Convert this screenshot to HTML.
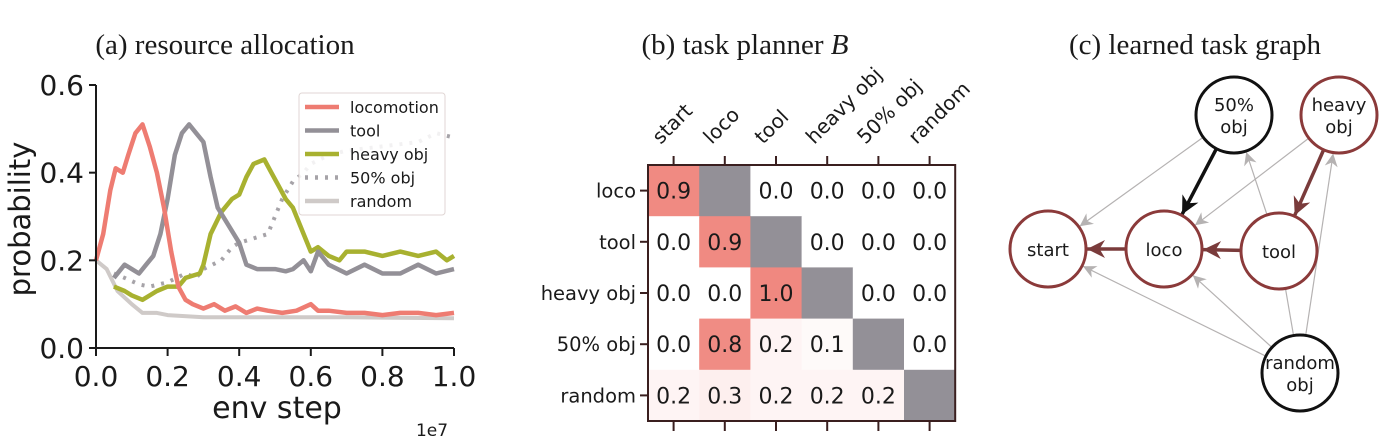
<!DOCTYPE html>
<html><head><meta charset="utf-8"><style>
html,body{margin:0;padding:0;background:#fff;}
svg{display:block;}
.t{font-family:"DejaVu Sans","Liberation Sans",sans-serif;fill:#1a1a1a;}
.s{font-family:"Liberation Serif",serif;fill:#1a1a1a;}
</style></head><body>
<svg id="root" width="1400" height="448" viewBox="0 0 1400 448" xmlns="http://www.w3.org/2000/svg">
<text class="s" x="225" y="54" font-size="29" text-anchor="middle">(a) resource allocation</text>
<text class="s" x="745" y="54" font-size="29" text-anchor="middle">(b) task planner <tspan font-style="italic">B</tspan></text>
<text class="s" x="1195" y="54" font-size="29" text-anchor="middle">(c) learned task graph</text>
<g id="lineChart"></g>
<g id="heat"></g>
<g id="graph"></g>
</svg>
<script>
const NS="http://www.w3.org/2000/svg";
function mk(p,tag,at,txt){const e=document.createElementNS(NS,tag);for(const k in at)e.setAttribute(k,at[k]);if(txt!==undefined)e.textContent=txt;p.appendChild(e);return e;}

// ---- line chart data ----
const xTicks=[0,0.2,0.4,0.6,0.8,1.0];
const yTicks=[0,0.2,0.4,0.6];
const seriesNames=["locomotion","tool","heavy obj","50% obj","random"];
const locoX=[0,0.02,0.04,0.055,0.075,0.09,0.11,0.13,0.15,0.17,0.19,0.21,0.23,0.25,0.27,0.3,0.33,0.36,0.39,0.42,0.45,0.48,0.52,0.56,0.6,0.62,0.65,0.7,0.75,0.8,0.85,0.9,0.95,1.0];
const locoY=[0.2,0.26,0.36,0.41,0.40,0.44,0.49,0.51,0.46,0.40,0.32,0.22,0.14,0.11,0.10,0.09,0.10,0.085,0.095,0.08,0.09,0.085,0.08,0.085,0.10,0.085,0.085,0.08,0.08,0.075,0.08,0.08,0.075,0.08];
const toolX=[0.05,0.08,0.1,0.12,0.14,0.16,0.18,0.2,0.22,0.24,0.26,0.28,0.3,0.32,0.34,0.37,0.4,0.42,0.45,0.48,0.5,0.53,0.55,0.58,0.6,0.62,0.65,0.7,0.75,0.8,0.85,0.9,0.95,1.0];
const toolY=[0.16,0.19,0.18,0.17,0.19,0.21,0.26,0.34,0.44,0.49,0.51,0.49,0.47,0.39,0.32,0.28,0.24,0.19,0.18,0.18,0.18,0.175,0.18,0.2,0.175,0.22,0.19,0.17,0.19,0.17,0.17,0.19,0.17,0.18];
const heavyX=[0.05,0.08,0.1,0.13,0.17,0.2,0.23,0.25,0.29,0.3,0.32,0.35,0.38,0.4,0.42,0.44,0.47,0.49,0.51,0.53,0.55,0.58,0.6,0.62,0.65,0.68,0.7,0.75,0.8,0.85,0.9,0.95,0.98,1.0];
const heavyY=[0.14,0.13,0.12,0.11,0.13,0.14,0.14,0.16,0.17,0.19,0.26,0.31,0.34,0.35,0.39,0.42,0.43,0.40,0.37,0.34,0.32,0.26,0.22,0.23,0.21,0.20,0.22,0.22,0.21,0.22,0.21,0.22,0.20,0.21];
const halfX=[0.05,0.08,0.12,0.15,0.2,0.25,0.28,0.3,0.35,0.38,0.4,0.44,0.48,0.5,0.52,0.55,0.58,0.6,0.65,0.7,0.8,0.9,0.95,1.0];
const halfY=[0.17,0.16,0.145,0.14,0.15,0.17,0.16,0.18,0.2,0.23,0.24,0.25,0.26,0.30,0.34,0.38,0.40,0.42,0.44,0.45,0.46,0.47,0.49,0.48];
const randX=[0,0.03,0.06,0.1,0.13,0.17,0.2,0.3,0.5,0.7,1.0];
const randY=[0.2,0.18,0.13,0.10,0.08,0.08,0.075,0.07,0.07,0.07,0.068];

const L={x0:96,x1:454,y0:348,y1:85};
const sx=v=>L.x0+(L.x1-L.x0)*v;
const sy=v=>L.y0-(L.y0-L.y1)*v/0.6;
const lc=document.getElementById('lineChart');
function poly(xs,ys){return xs.map((x,i)=>sx(x).toFixed(1)+","+sy(ys[i]).toFixed(1)).join(" ");}
const lines=[
 [randX,randY,"#cfcac8",4,"","series-random"],
 [halfX,halfY,"#a6a3a8",4,"3 7","series-50pct-obj"],
 [heavyX,heavyY,"#a8b130",4.5,"","series-heavy-obj"],
 [toolX,toolY,"#939097",4.5,"","series-tool"],
 [locoX,locoY,"#ee7c72",4.5,"","series-locomotion"]];
for(const [xs,ys,c,w,d,n] of lines){
 const p=mk(lc,'polyline',{points:poly(xs,ys),fill:"none",stroke:c,"stroke-width":w,"stroke-linejoin":"round","stroke-dasharray":d});
 
 
}
mk(lc,'line',{x1:L.x0,y1:L.y1,x2:L.x0,y2:L.y0,stroke:"#1a1a1a","stroke-width":2});
mk(lc,'line',{x1:L.x0,y1:L.y0,x2:L.x1,y2:L.y0,stroke:"#1a1a1a","stroke-width":2});
for(const t of yTicks){
 mk(lc,'line',{x1:L.x0-7,y1:sy(t),x2:L.x0,y2:sy(t),stroke:"#1a1a1a","stroke-width":2});
 const e=mk(lc,'text',{class:"t",x:L.x0-12,y:sy(t)+10,"font-size":28,"text-anchor":"end"},t.toFixed(1));
 
 
}
for(const t of xTicks){
 mk(lc,'line',{x1:sx(t),y1:L.y0,x2:sx(t),y2:L.y0+8,stroke:"#1a1a1a","stroke-width":2});
 const e=mk(lc,'text',{class:"t",x:sx(t),y:L.y0+38,"font-size":28,"text-anchor":"middle"},t.toFixed(1));
 
 
}
let e=mk(lc,'text',{class:"t",x:277,y:418,"font-size":30,"text-anchor":"middle"},"env step");

e=mk(lc,'text',{class:"t",x:432,y:436,"font-size":17,"text-anchor":"middle"},"1e7");

e=mk(lc,'text',{class:"t",x:0,y:0,"font-size":29,"text-anchor":"middle",transform:"translate(30,219) rotate(-90)"},"probability");

// legend
const lg=mk(lc,'g',{});

mk(lg,'rect',{x:299,y:93,width:146,height:122,rx:3,fill:"rgba(255,255,255,0.85)",stroke:"#e0d6d4"});
const legStyle=[["#ee7c72",""],["#939097",""],["#a8b130",""],["#a6a3a8","3 7"],["#cfcac8",""]];
seriesNames.forEach((n,i)=>{
 const y=107+i*23.5;
 mk(lg,'line',{x1:305,y1:y,x2:339,y2:y,stroke:legStyle[i][0],"stroke-width":4.5,"stroke-dasharray":legStyle[i][1]});
 const t=mk(lg,'text',{class:"t",x:350,y:y+6,"font-size":16},n);
 
 
});

// ---- heatmap ----
const rowLabels=["loco","tool","heavy obj","50% obj","random"];
const colLabels=["start","loco","tool","heavy obj","50% obj","random"];
const heatRow0=[0.9,null,0.0,0.0,0.0,0.0];
const heatRow1=[0.0,0.9,null,0.0,0.0,0.0];
const heatRow2=[0.0,0.0,1.0,null,0.0,0.0];
const heatRow3=[0.0,0.8,0.2,0.1,null,0.0];
const heatRow4=[0.2,0.3,0.2,0.2,0.2,null];
const heatVals=[heatRow0,heatRow1,heatRow2,heatRow3,heatRow4];
const H={x:648,y:165,cw:51.2,ch:51.2};
const hg=document.getElementById('heat');
function cellColor(v){
 if(v===null)return "#939097";
 const a=Math.min(1,v);
 const c0=[255,255,255],c1=[240,136,128];
 const k=v>=0.5?0.85+0.15*a:0.5*a*0.9;
 return "rgb("+c0.map((c,i)=>Math.round(c+(c1[i]-c)*k)).join(",")+")";
}
heatVals.forEach((row,r)=>row.forEach((v,c)=>{
 const x=H.x+c*H.cw,y=H.y+r*H.ch;
 const rc=mk(hg,'rect',{x:x,y:y,width:H.cw+0.5,height:H.ch+0.5,fill:cellColor(v)});
 
 
 if(v!==null){
  const t=mk(hg,'text',{class:"t",x:x+H.cw/2,y:y+H.ch/2+8,"font-size":22,"text-anchor":"middle"},v.toFixed(1));
  
  
 }
}));
mk(hg,'rect',{x:H.x,y:H.y,width:H.cw*6,height:H.ch*5,fill:"none",stroke:"#3a1f1f","stroke-width":2});
rowLabels.forEach((l,r)=>{
 const y=H.y+r*H.ch+H.ch/2;
 mk(hg,'line',{x1:H.x-8,y1:y,x2:H.x,y2:y,stroke:"#3a1f1f","stroke-width":2});
 const t=mk(hg,'text',{class:"t",x:H.x-12,y:y+7,"font-size":19.5,"text-anchor":"end",fill:"#3a1f1f"},l);
 
 
});
colLabels.forEach((l,c)=>{
 const x=H.x+c*H.cw+H.cw/2;
 mk(hg,'line',{x1:x,y1:H.y-9,x2:x,y2:H.y,stroke:"#3a1f1f","stroke-width":2});
 mk(hg,'line',{x1:x,y1:H.y+5*H.ch,x2:x,y2:H.y+5*H.ch+10,stroke:"#3a1f1f","stroke-width":2});
 const t=mk(hg,'text',{class:"t",x:0,y:0,"font-size":20,transform:"translate("+(x-13)+","+(H.y-20)+") rotate(-45)"},l);
 
 
});

// ---- graph ----
const gg=document.getElementById('graph');
const defs=mk(gg,'defs',{});
function marker(id,c,s){const m=mk(defs,'marker',{id:id,viewBox:"0 0 10 10",refX:10,refY:5,markerWidth:s,markerHeight:s,orient:"auto",markerUnits:"userSpaceOnUse"});mk(m,'path',{d:"M0,0 L10,5 L0,10 L3,5 z",fill:c});}
marker('ag','#b5b2b2',13);marker('ar','#7a3b3b',18);marker('ak','#111',18);
const R=38;
const nodes={start:[1048,249,"#8b3a3a",["start"]],loco:[1164,249,"#8b3a3a",["loco"]],tool:[1279,251,"#8b3a3a",["tool"]],half:[1234,115,"#111",["50%","obj"]],heavy:[1339,115,"#8b3a3a",["heavy","obj"]],rand:[1300,373,"#111",["random","obj"]]};
const edges=[["half","start","g"],["heavy","loco","g"],["tool","half","g"],["rand","start","g"],["rand","loco","g"],["rand","tool","n"],["rand","heavy","g"],["half","loco","k"],["heavy","tool","r"],["loco","start","r"],["tool","loco","r"]];
for(const [a,b,t] of edges){
 const A=nodes[a],B=nodes[b];const dx=B[0]-A[0],dy=B[1]-A[1],d=Math.hypot(dx,dy);
 const ux=dx/d,uy=dy/d;
 const col=t==="k"?"#111":t==="r"?"#7a3b3b":"#b5b2b2";
 const w=(t==="k"||t==="r")?3.5:1.2;
 const ln=mk(gg,'line',{x1:A[0]+ux*R,y1:A[1]+uy*R,x2:B[0]-ux*(R+1),y2:B[1]-uy*(R+1),stroke:col,"stroke-width":w});
 if(t!=="n")ln.setAttribute('marker-end','url(#a'+(t==="k"?"k":t==="r"?"r":"g")+')');
 
 
}
for(const k in nodes){
 const [x,y,c,lab]=nodes[k];
 const ci=mk(gg,'circle',{cx:x,cy:y,r:R,fill:"#fff",stroke:c,"stroke-width":3});
 
 
 lab.forEach((s,i)=>{
  const t=mk(gg,'text',{class:"t",x:x,y:y+7+(lab.length===2?(i===0?-11:11):0),"font-size":18,"text-anchor":"middle"},s);
  
  
 });
}
</script>
</body></html>
